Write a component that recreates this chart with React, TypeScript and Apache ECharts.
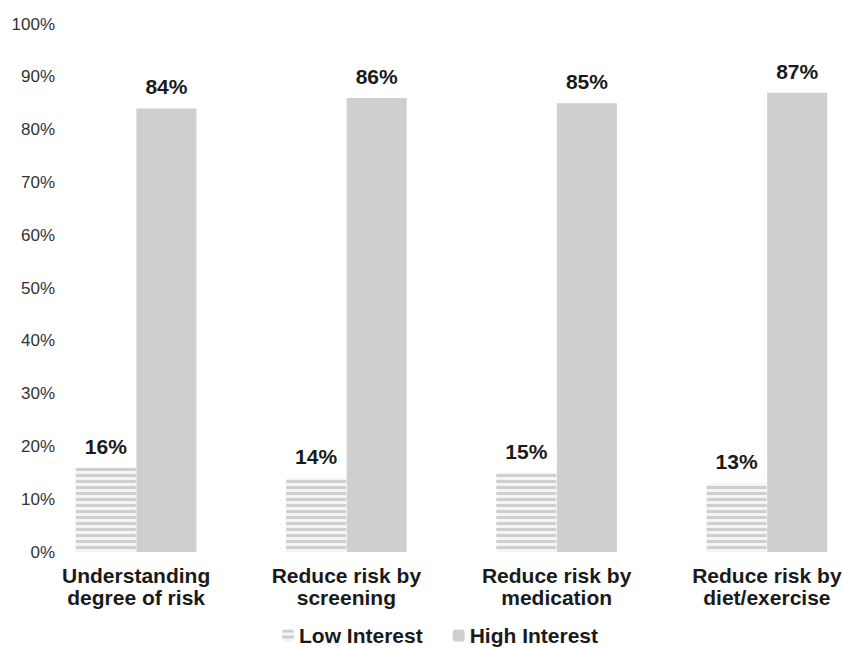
import React, { useEffect, useRef } from "react";
import * as echarts from "echarts";

const categories = [
  "Understanding\ndegree of risk",
  "Reduce risk by\nscreening",
  "Reduce risk by\nmedication",
  "Reduce risk by\ndiet/exercise",
];
const lowInterest = [16, 14, 15, 13];
const highInterest = [84, 86, 85, 87];
const seriesNames = ["Low Interest", "High Interest"];

const FONT = "Liberation Sans, Arial, sans-serif";

export default function App() {
  const ref = useRef<HTMLDivElement>(null);
  useEffect(() => {
    if (!ref.current) return;
    const chart = echarts.init(ref.current, null, { renderer: "svg" });
    const labelStyle = {
      show: true,
      position: "top",
      distance: 11,
      formatter: "{c}%",
      fontFamily: FONT,
      fontWeight: "bold",
      fontSize: 21,
      color: "#1a1a1a",
    };
    chart.setOption({
      animation: false,
      backgroundColor: "#ffffff",
      grid: { left: 31, top: 24, width: 841, height: 528, containLabel: false },
      legend: {
        bottom: -2,
        left: "center",
        itemWidth: 12,
        itemHeight: 12,
        itemGap: 30,
        textStyle: {
          fontFamily: FONT,
          fontWeight: "bold",
          fontSize: 21,
          color: "#1a1a1a",
        },
        data: seriesNames,
      },
      xAxis: {
        type: "category",
        data: categories,
        axisLine: { show: false },
        axisTick: { show: false },
        axisLabel: {
          margin: 12,
          fontFamily: FONT,
          fontWeight: "bold",
          fontSize: 21,
          lineHeight: 22,
          color: "#1a1a1a",
          interval: 0,
        },
      },
      yAxis: {
        type: "value",
        min: 0,
        max: 100,
        interval: 10,
        axisLine: { show: false },
        axisTick: { show: false },
        splitLine: { show: false },
        axisLabel: {
          formatter: "{value}%",
          margin: -24,
          fontFamily: FONT,
          fontSize: 17,
          color: "#333333",
        },
      },
      series: [
        {
          name: seriesNames[0],
          type: "bar",
          data: lowInterest,
          barWidth: 60,
          barGap: "1%",
          itemStyle: {
            color: "#f4f4f4",
            decal: {
              symbol: "rect",
              symbolSize: 1,
              color: "#cfcfcf",
              dashArrayX: [1, 0],
              dashArrayY: [3, 2.6],
              rotation: 0,
            },
          },
          label: labelStyle,
        },
        {
          name: seriesNames[1],
          type: "bar",
          data: highInterest,
          barWidth: 60,
          itemStyle: { color: "#cfcfcf" },
          label: labelStyle,
        },
      ],
    });
    return () => chart.dispose();
  }, []);
  return (
    <div style={{ position: "absolute", left: 0, top: 0, width: 843, height: 649, overflow: "hidden" }}>
      <div ref={ref} style={{ width: 880, height: 649 }} />
    </div>
  );
}
